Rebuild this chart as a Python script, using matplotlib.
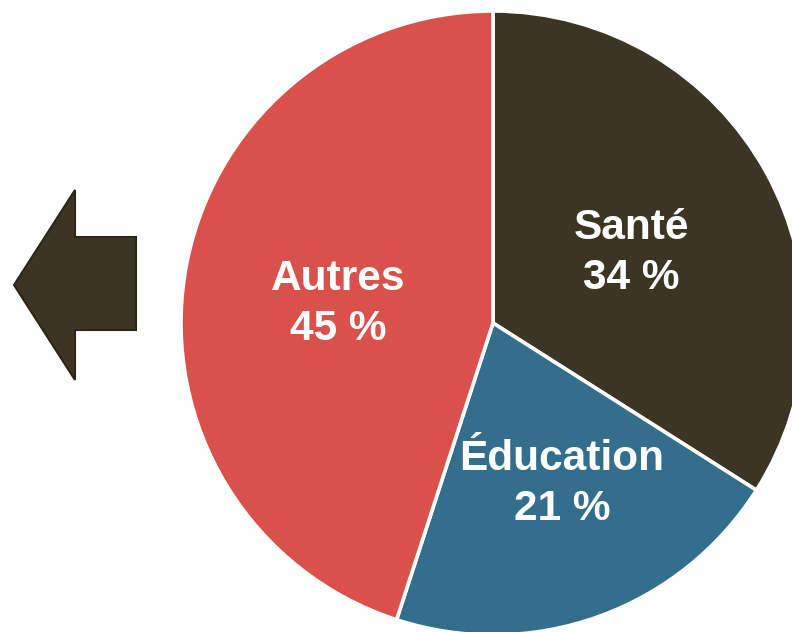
import matplotlib.pyplot as plt
from matplotlib.patches import Polygon

# Data
labels = ['Santé', 'Éducation', 'Autres']
shares = [34, 21, 45]
colors = ['#3D3523', '#336F8D', '#DA504A']

W, H = 792, 632
fig = plt.figure(figsize=(W / 100, H / 100), dpi=100)
ax = fig.add_axes([0, 0, 1, 1])

# pie in pixel coordinates (y measured from bottom)
cx, cy, r = 493, H - 323, 312
ax.pie(shares, colors=colors, startangle=90, counterclock=False,
       center=(cx, cy), radius=r, frame=True,
       wedgeprops=dict(edgecolor='white', linewidth=2.6))
ax.set_xlim(0, W)
ax.set_ylim(0, H)
ax.set_aspect('equal')
ax.axis('off')

# labels
label_pos = [(631, H - 253), (562, H - 484), (338, H - 304)]
for lab, val, (x, y) in zip(labels, shares, label_pos):
    ax.text(x, y, f'{lab}\n{val} %', ha='center', va='center', color='white',
            fontsize=30.5, fontweight='bold', family='Liberation Sans',
            linespacing=1.3)

# left arrow
arrow = [(14, 285), (75, 190), (75, 237), (136, 237), (136, 330), (75, 330), (75, 380)]
arrow = [(x, H - y) for x, y in arrow]
ax.add_patch(Polygon(arrow, closed=True, facecolor='#3D3523', edgecolor='#2B2616', linewidth=1.5))

fig.savefig('out.png', dpi=100)
